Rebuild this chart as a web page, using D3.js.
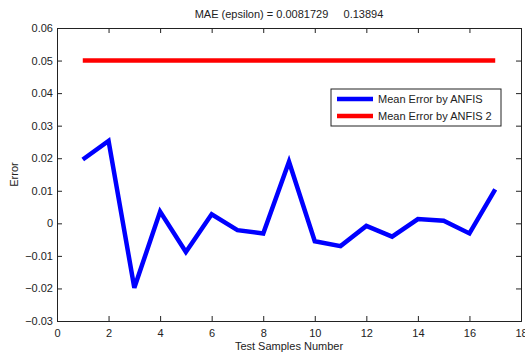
<!DOCTYPE html>
<html>
<head>
<meta charset="utf-8">
<script src="https://cdn.jsdelivr.net/npm/d3@7"></script>
<style>
  body { margin: 0; background: #fff; }
  text { font-family: "Liberation Sans", Arial, sans-serif; }
</style>
</head>
<body>
<div id="chart"></div>
<script>
const samples = d3.range(1, 18);
const anfisErr = [0.0196, 0.0253, -0.0198, 0.0036, -0.0088, 0.0028, -0.0021, -0.0031, 0.0189,
  -0.0055, -0.0070, -0.0008, -0.0041, 0.0013, 0.0008, -0.0031, 0.0104];
const anfis2Err = samples.map(() => 0.05);
const xTicks = d3.range(0, 19, 2);
const yTicks = [-0.03, -0.02, -0.01, 0, 0.01, 0.02, 0.03, 0.04, 0.05, 0.06];
const seriesNames = ['Mean Error by ANFIS', 'Mean Error by ANFIS 2'];
const colors = ['#0000ff', '#ff0000'];
const title = 'MAE (epsilon) = 0.0081729\u00a0\u00a0\u00a0\u00a0\u00a00.13894';

const width = 525;
const height = 354;
const margin = { top: 28, right: 4, bottom: 33, left: 57 };

const svg = d3.select('#chart')
  .append('svg')
  .attr('width', width)
  .attr('height', height);

const x = d3.scaleLinear()
  .domain([0, 18])
  .range([margin.left, width - margin.right]);

const y = d3.scaleLinear()
  .domain([-0.03, 0.06])
  .range([height - margin.bottom, margin.top]);

const axisColor = '#222';
const fmt = d => d === 0 ? '0' : d3.format('.2f')(d);

// axes with inward ticks on all four sides
function styleAxis(g) {
  g.select('.domain').attr('stroke', axisColor);
  g.selectAll('.tick line').attr('stroke', axisColor);
  g.selectAll('.tick text').attr('fill', axisColor).attr('font-size', 11);
}

svg.append('g')
  .attr('transform', `translate(0,${height - margin.bottom})`)
  .call(d3.axisBottom(x).tickValues(xTicks).tickSize(-5).tickPadding(8).tickFormat(d3.format('d')))
  .call(styleAxis);

svg.append('g')
  .attr('transform', `translate(0,${margin.top})`)
  .call(d3.axisTop(x).tickValues(xTicks).tickSize(-5).tickFormat(''))
  .call(styleAxis);

svg.append('g')
  .attr('transform', `translate(${margin.left},0)`)
  .call(d3.axisLeft(y).tickValues(yTicks).tickSize(-5).tickPadding(4).tickFormat(fmt))
  .call(styleAxis);

svg.append('g')
  .attr('transform', `translate(${width - margin.right},0)`)
  .call(d3.axisRight(y).tickValues(yTicks).tickSize(-5).tickFormat(''))
  .call(styleAxis);

svg.selectAll('.domain').attr('stroke-width', 1);

const line = d3.line()
  .x((d, i) => x(samples[i]))
  .y(d => y(d));

svg.append('path')
  .datum(anfisErr)
  .attr('fill', 'none')
  .attr('stroke', colors[0])
  .attr('stroke-width', 4.5)
  .attr('stroke-linejoin', 'miter')
  .attr('d', line);

svg.append('path')
  .datum(anfis2Err)
  .attr('fill', 'none')
  .attr('stroke', colors[1])
  .attr('stroke-width', 4.5)
  .attr('d', line);

// title and labels
svg.append('text')
  .attr('x', (margin.left + width - margin.right) / 2)
  .attr('y', 18)
  .attr('text-anchor', 'middle')
  .attr('font-size', 11)
  .attr('fill', axisColor)
  .text(title);

svg.append('text')
  .attr('x', (margin.left + width - margin.right) / 2)
  .attr('y', 350)
  .attr('text-anchor', 'middle')
  .attr('font-size', 11)
  .attr('fill', axisColor)
  .text('Test Samples Number');

svg.append('text')
  .attr('transform', `translate(18,${(margin.top + height - margin.bottom) / 2}) rotate(-90)`)
  .attr('text-anchor', 'middle')
  .attr('font-size', 11)
  .attr('fill', axisColor)
  .text('Error');

// legend
const legend = svg.append('g').attr('transform', 'translate(331,89)');
legend.append('rect')
  .attr('width', 170)
  .attr('height', 37)
  .attr('fill', '#fff')
  .attr('stroke', axisColor);

seriesNames.forEach((name, i) => {
  const ly = 10 + i * 17;
  legend.append('line')
    .attr('x1', 6).attr('x2', 42)
    .attr('y1', ly).attr('y2', ly)
    .attr('stroke', colors[i])
    .attr('stroke-width', 4.5);
  legend.append('text')
    .attr('x', 47)
    .attr('y', ly + 4)
    .attr('font-size', 11)
    .attr('fill', axisColor)
    .text(name);
});
</script>
</body>
</html>
